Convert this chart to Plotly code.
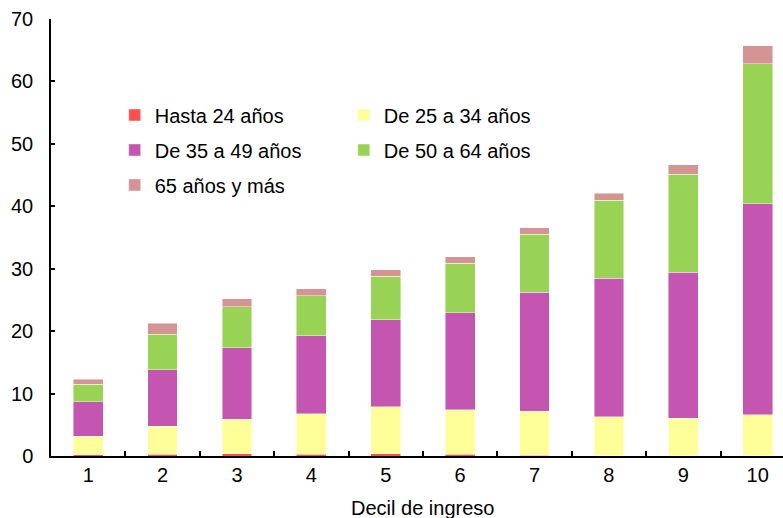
import plotly.graph_objects as go

# Income deciles and contribution of each age group of the household head
deciles = ["1", "2", "3", "4", "5", "6", "7", "8", "9", "10"]
hasta_24 = [0.2, 0.3, 0.35, 0.3, 0.4, 0.3, 0.15, 0.05, 0.02, 0.02]
de_25_34 = [3.0, 4.5, 5.55, 6.5, 7.5, 7.1, 7.05, 6.2, 6.0, 6.6]
de_35_49 = [5.5, 9.0, 11.45, 12.5, 13.95, 15.55, 19.0, 22.25, 23.4, 33.8]
de_50_64 = [2.8, 5.7, 6.55, 6.4, 6.95, 7.95, 9.3, 12.5, 15.7, 22.45]
de_65_mas = [0.8, 1.8, 1.25, 1.1, 1.0, 1.0, 1.1, 1.1, 1.5, 2.85]

y_ticks = [0, 10, 20, 30, 40, 50, 60, 70]
x_title = "Decil de ingreso"

series = [
    ("Hasta 24 años", hasta_24, "#FF5050", "legend"),
    ("De 25 a 34 años", de_25_34, "#FFFF99", "legend2"),
    ("De 35 a 49 años", de_35_49, "#C455B0", "legend"),
    ("De 50 a 64 años", de_50_64, "#99D355", "legend2"),
    ("65 años y más", de_65_mas, "#D49494", "legend"),
]

FONT = "Liberation Sans, Arial, sans-serif"
FS = 20

fig = go.Figure()
for name, vals, color, leg in series:
    fig.add_trace(go.Bar(
        x=deciles, y=vals, name=name, legend=leg, legendgroup=name,
        marker=dict(color=color, line=dict(color="rgba(255,255,255,0.55)", width=0.8)),
        width=0.4,
    ))

legend_style = dict(
    font=dict(family=FONT, size=FS, color="#000"),
    bgcolor="rgba(0,0,0,0)", borderwidth=0,
    traceorder="grouped", tracegroupgap=6,
    itemwidth=30, xanchor="left", yanchor="top",
)

# x-axis title sits just below the tick labels, centred on the full decile band
fig.add_annotation(
    text=x_title, xref="paper", yref="paper", x=0.507, y=-0.119,
    xanchor="center", yanchor="middle", showarrow=False,
    font=dict(family=FONT, size=FS, color="#000"),
)

fig.update_layout(
    width=783, height=518,
    margin=dict(l=51, r=0, t=19, b=62),
    paper_bgcolor="white", plot_bgcolor="white",
    barmode="stack",
    font=dict(family=FONT, size=FS, color="#000"),
    showlegend=True,
    legend=dict(x=0.087, y=0.825, **legend_style),
    legend2=dict(x=0.40, y=0.825, **legend_style),
    xaxis=dict(
        type="category", range=[-0.5, 9.34], automargin=False,
        showline=True, linecolor="#000", linewidth=1.5,
        ticks="inside", tickson="boundaries", ticklen=5, tickcolor="#000", tickwidth=1.5,
        showgrid=False, zeroline=False,
        tickfont=dict(family=FONT, size=FS, color="#000"),
    ),
    yaxis=dict(
        range=[0, 70], tickvals=y_ticks, automargin=False,
        showline=True, linecolor="#000", linewidth=1.5,
        ticks="inside", ticklen=4, tickcolor="#000", tickwidth=1.5,
        showgrid=False, zeroline=False,
        ticklabelstandoff=12,
        tickfont=dict(family=FONT, size=FS, color="#000"),
    ),
)

fig.write_html("out.html")
